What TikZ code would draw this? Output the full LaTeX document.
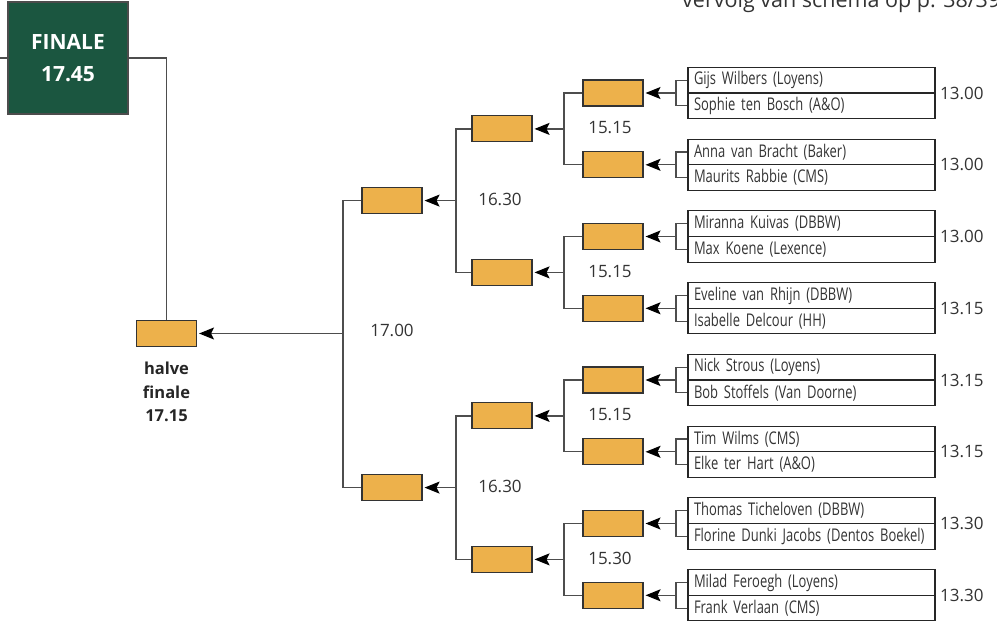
\documentclass[tikz,border=0pt]{standalone}
\usepackage{fontspec}
\setmainfont{Open Sans}
\newfontfamily\smalfont[FakeStretch=0.74]{Open Sans}
\usetikzlibrary{arrows.meta,positioning,calc}

\definecolor{oranje}{HTML}{EDB14B}
\definecolor{groen}{HTML}{1B5640}
\definecolor{lijngrijs}{HTML}{4D4D4D}
\definecolor{tekstgrijs}{HTML}{333333}

\tikzset{
	wedstrijd/.style={rectangle,draw=black!80,fill=oranje,line width=1.1pt,
		minimum width=60pt,minimum height=26pt,inner sep=0pt},
	speler/.style={rectangle,draw=black!85,line width=1.1pt,minimum height=25.6pt,
		text width=235pt,inner xsep=6pt,inner ysep=0pt,align=left,
		font=\smalfont\fontsize{17.5}{17.5}\selectfont,text=tekstgrijs},
	tijd/.style={inner sep=0pt,font=\fontsize{17}{17}\selectfont,text=tekstgrijs},
	lijn/.style={draw=lijngrijs,line width=1.2pt},
	pijl/.style={lijn,shorten >=2pt,-{Stealth[black,length=15pt,width=12pt,inset=3pt]}},
}

\begin{document}
\begin{tikzpicture}[x=1pt,y=-1pt]
	\useasboundingbox (0,0) rectangle (997,621);

	% kop (valt deels buiten de pagina, zoals in het origineel)
	\node[anchor=base west,inner sep=0pt,font=\fontsize{21.5}{21.5}\selectfont,text=tekstgrijs]
		(vervolg) at (682,8) {vervolg van schema op p. 38/39};

	% finale
	\node[draw=black!70,line width=1.1pt,fill=groen,minimum width=120pt,minimum height=112pt,
		text=white,font=\bfseries\fontsize{21}{32}\selectfont,align=center]
		(finale) at (68,58) {FINALE\\17.45};
	\coordinate (links) at (0,58);

	% halve finale
	\node[wedstrijd] (hf) at (166.5,333.5) {};
	\node[below=15pt of hf,inner sep=0pt,align=center,text=black!85,
		font=\bfseries\fontsize{16.5}{23.5}\selectfont] (hflabel) {halve\\finale\\17.15};

	% eerste ronde: spelers, tijden en winnaars
	\foreach \i/\y/\na/\nb/\t in {
		1/93/{Gijs Wilbers (Loyens)}/{Sophie ten Bosch (A\&O)}/13.00,
		2/164.8/{Anna van Bracht (Baker)}/{Maurits Rabbie (CMS)}/13.00,
		3/236.5/{Miranna Kuivas (DBBW)}/{Max Koene (Lexence)}/13.00,
		4/308.3/{Eveline van Rhijn (DBBW)}/{Isabelle Delcour (HH)}/13.15,
		5/380/{Nick Strous (Loyens)}/{Bob Stoffels (Van Doorne)}/13.15,
		6/451.8/{Tim Wilms (CMS)}/{Elke ter Hart (A\&O)}/13.15,
		7/523.5/{Thomas Ticheloven (DBBW)}/{Florine Dunki Jacobs (Dentos Boekel)}/13.30,
		8/595.3/{Milad Feroegh (Loyens)}/{Frank Verlaan (CMS)}/13.30}
	{
		\node[speler] (sa\i) at (811.5,\y-12.8) {\na};
		\node[speler] (sb\i) at (811.5,\y+12.8) {\nb};
		\node[tijd,anchor=west] (t\i) at (940,\y) {\t};
		\node[wedstrijd] (r\i) at (613,\y) {};
		\coordinate (k\i) at (676,\y);
		\draw[lijn] (sa\i.west) -| (k\i) |- (sb\i.west);
		\draw[pijl] (k\i) -- (r\i.east);
	}

	% tweede ronde
	\foreach \j/\y/\a/\b/\t in {1/128.9/1/2/15.15, 2/272.4/3/4/15.15,
		3/415.9/5/6/15.15, 4/559.4/7/8/15.30}
	{
		\node[wedstrijd] (q\j) at (502,\y) {};
		\coordinate (kq\j) at (564,\y);
		\node[tijd] (tq\j) at (610,\y-1) {\t};
		\draw[lijn] (r\a.west) -| (kq\j) |- (r\b.west);
		\draw[pijl] (kq\j) -- (q\j.east);
	}

	% derde ronde
	\foreach \j/\y/\a/\b in {1/200.6/1/2, 2/487.6/3/4}
	{
		\node[wedstrijd] (h\j) at (392,\y) {};
		\coordinate (kh\j) at (456,\y);
		\node[tijd] (th\j) at (500,\y-1.5) {16.30};
		\draw[lijn] (q\a.west) -| (kh\j) |- (q\b.west);
		\draw[pijl] (kh\j) -- (h\j.east);
	}

	% naar halve finale en finale
	\coordinate (khf) at (343,333.5);
	\node[tijd] (thf) at (392,330) {17.00};
	\draw[lijn] (h1.west) -| (khf) |- (h2.west);
	\draw[pijl] (khf) -- (hf.east);
	\draw[lijn] (hf.north) |- (finale.east);
	\draw[lijn] (links) -- (finale.west);
\end{tikzpicture}
\end{document}
